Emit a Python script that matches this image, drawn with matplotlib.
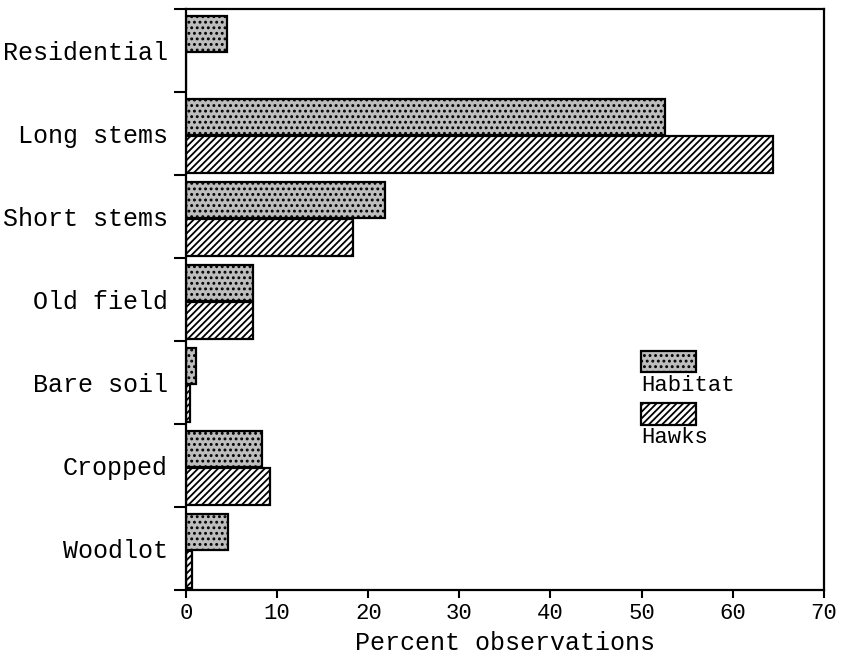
import matplotlib.pyplot as plt
import numpy as np
from matplotlib.patches import Rectangle

plt.rcParams['font.family'] = ['Liberation Mono', 'DejaVu Sans Mono']
plt.rcParams['hatch.linewidth'] = 1.3

categories = ['Residential', 'Long stems', 'Short stems', 'Old field',
              'Bare soil', 'Cropped', 'Woodlot']
habitat = [4.5, 52.6, 21.8, 7.3, 1.1, 8.3, 4.6]
hawks = [0.0, 64.4, 18.3, 7.3, 0.4, 9.2, 0.6]

stipple = dict(facecolor='#bdbdbd', hatch='...')
stripes = dict(facecolor='white', hatch='/////')

fig = plt.figure(figsize=(8.5, 6.58), dpi=100)
ax = fig.add_axes([0.219, 0.103, 0.75, 0.883])

y = np.arange(len(categories))
h = 0.44
ax.barh(y - 0.20, habitat, height=h, edgecolor='black', linewidth=1.6, **stipple)
ax.barh(y + 0.25, hawks, height=h, edgecolor='black', linewidth=1.6, **stripes)

ax.set_xlim(0, 70)
ax.set_ylim(len(categories) - 0.5, -0.5)
ax.set_xticks(np.arange(0, 71, 10))
ax.tick_params(axis='x', labelsize=16, direction='out', length=6, width=1.5)
ax.set_yticks(y)
ax.set_yticklabels(categories, fontsize=18)
ax.tick_params(axis='y', which='major', length=0, pad=13)
ax.set_yticks(np.arange(-0.5, len(categories), 1), minor=True)
ax.tick_params(axis='y', which='minor', length=9, width=1.5, direction='out')
ax.set_xlabel('Percent observations', fontsize=18, labelpad=5)
for s in ax.spines.values():
    s.set_linewidth(1.6)

# legend: patch with label underneath
for i, (lab, style) in enumerate([('Habitat', stipple), ('Hawks', stripes)]):
    y0 = 0.375 - i * 0.09
    ax.add_patch(Rectangle((0.714, y0), 0.086, 0.037, transform=ax.transAxes,
                           edgecolor='black', linewidth=1.6, **style))
    ax.text(0.714, y0 - 0.004, lab, transform=ax.transAxes, fontsize=16,
            va='top', ha='left')

fig.savefig('out.png', dpi=100)
